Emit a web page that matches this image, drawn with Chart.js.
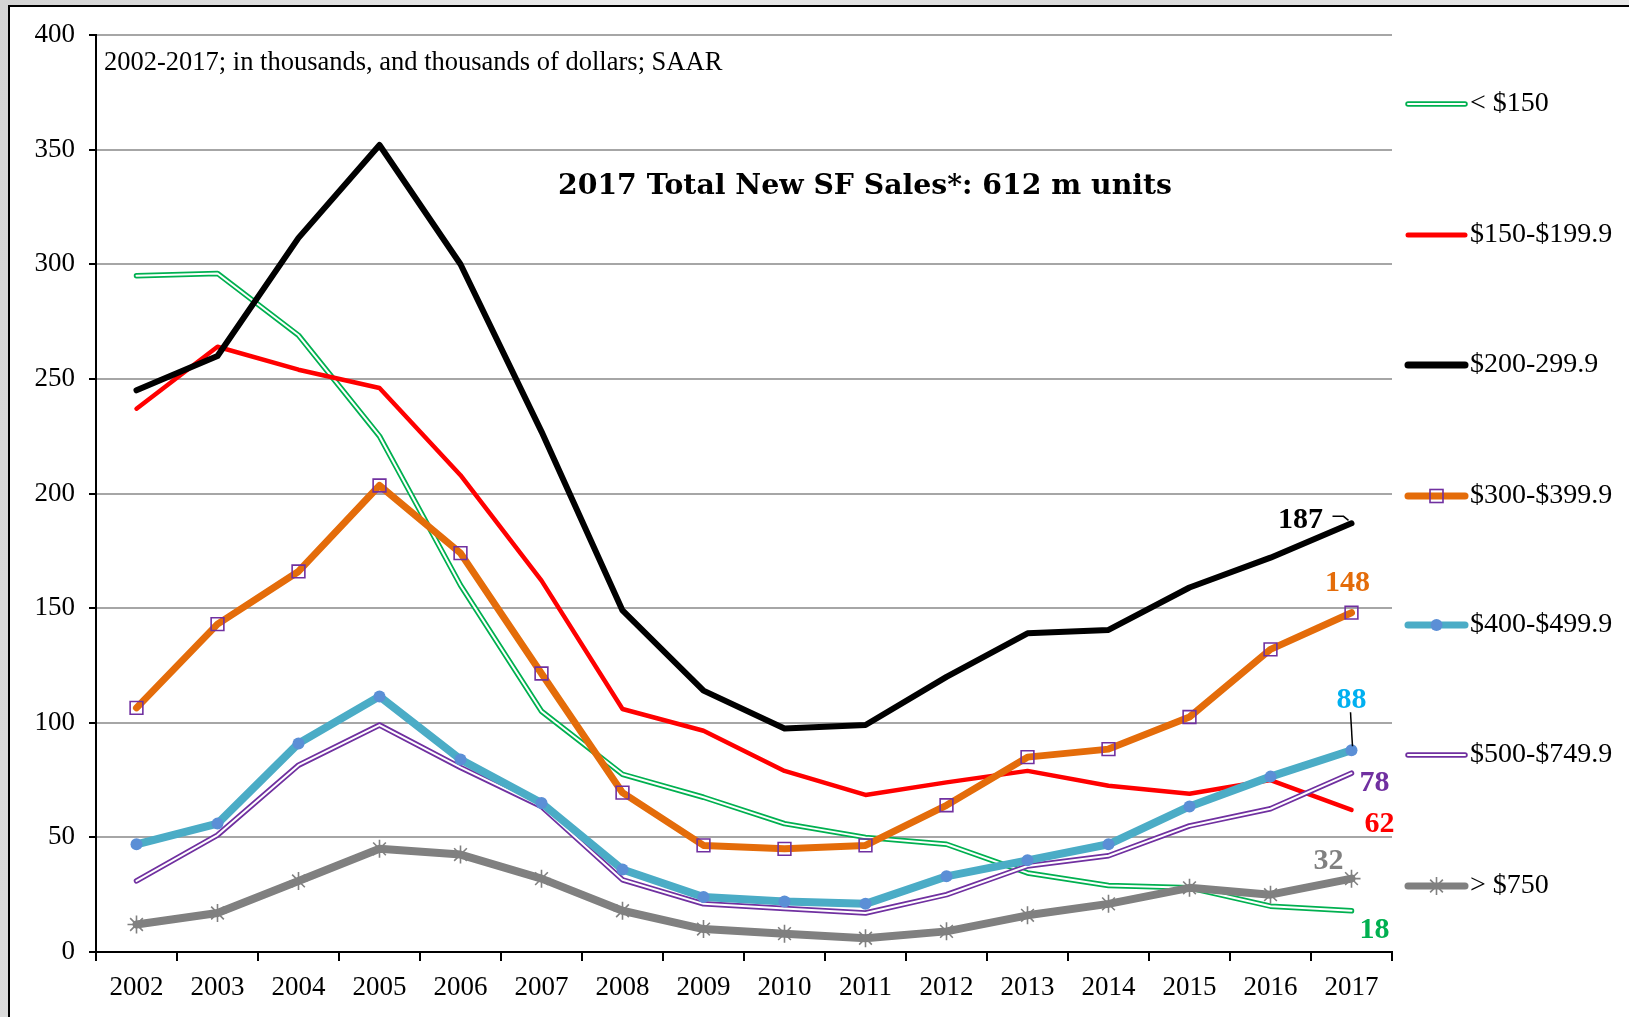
<!DOCTYPE html>
<html>
<head>
<meta charset="utf-8">
<title>New SF Sales by Price Range</title>
<script src="https://cdn.jsdelivr.net/npm/chart.js@4.4.1/dist/chart.umd.min.js"></script>
<style>
    html, body {
        margin: 0;
        padding: 0;
        width: 1629px;
        height: 1017px;
        overflow: hidden;
        background: linear-gradient(100deg, #d4d4d4 0%, #ebebeb 35%, #d9d9d9 60%, #eeeeee 100%);
    }
    #marco {
        position: absolute;
        left: 8px;
        top: 5px;
        width: 1640px;
        height: 1030px;
        background: #ffffff;
        border-top: 2px solid #000;
        border-left: 2px solid #000;
    }
    #grafica {
        position: absolute;
        left: 0;
        top: 0;
    }
</style>
</head>
<body>
<div id="marco"></div>
<canvas id="grafica" width="1629" height="1017"></canvas>

<script>
// años y ventas (miles de unidades, SAAR) por rango de precio
const anios = ["2002", "2003", "2004", "2005", "2006", "2007", "2008", "2009",
    "2010", "2011", "2012", "2013", "2014", "2015", "2016", "2017"];

const menos150 = [295, 296, 269, 225, 160, 105, 77.5, 67.5, 56, 50, 47, 34.5, 29, 28, 20, 18];
const r150_199 = [237, 264, 254, 246, 208, 162, 106, 96.5, 79, 68.5, 74, 79, 72.5, 69, 75, 62];
const r200_299 = [245, 260, 311.5, 352, 300, 227, 149, 114, 97.5, 99, 120, 139, 140.5, 159, 172, 187];
const r300_399 = [106.5, 143, 166, 203.5, 174, 121.5, 69.5, 46.5, 45, 46.5, 64, 85, 88.5, 102.5, 132, 148];
const r400_499 = [47, 56, 91, 111.5, 84, 65, 36, 24, 22, 21, 33, 40, 47, 63.5, 76.5, 88];
const r500_749 = [31, 51, 81.5, 99, 80.5, 63.5, 31.5, 21, 19, 17, 25, 37.5, 42, 55, 62.5, 78];
const mas750 = [12, 17, 31, 45, 42.5, 32, 18, 10, 8, 6, 9, 16, 21, 28, 25, 32];

const yTicks = [0, 50, 100, 150, 200, 250, 300, 350, 400];

const nombresSeries = ["< $150", "$150-$199.9", "$200-299.9", "$300-$399.9",
    "$400-$499.9", "$500-$749.9", "> $750"];

const fuente = "'Liberation Serif', 'Times New Roman', serif";

function serie(datos, color, ancho, orden, extra = {}) {
    return Object.assign({
        data: datos,
        borderColor: color,
        backgroundColor: color,
        borderWidth: ancho,
        borderCapStyle: "round",
        borderJoinStyle: "round",
        pointRadius: 0,
        pointHoverRadius: 0,
        tension: 0,
        fill: false,
        order: orden
    }, extra);
}

// lineas dobles: trazo de color con un hilo blanco encima
const datasets = [
    serie(menos150, "#00b050", 5.5, 9, { label: nombresSeries[0] }),
    serie(menos150, "#ffffff", 2, 8, { label: "_blanco1" }),
    serie(r150_199, "#ff0000", 4.5, 7, { label: nombresSeries[1] }),
    serie(r200_299, "#000000", 6, 6, { label: nombresSeries[2] }),
    serie(r500_749, "#7030a0", 5.5, 5, { label: nombresSeries[5] }),
    serie(r500_749, "#ffffff", 2, 4, { label: "_blanco2" }),
    serie(r300_399, "#e46c0a", 7, 3, {
        label: nombresSeries[3],
        pointStyle: "rect",
        pointRadius: 9,
        pointBorderColor: "#7030a0",
        pointBackgroundColor: "rgba(255,255,255,0)",
        pointBorderWidth: 1.6
    }),
    serie(r400_499, "#4bacc6", 8, 2, {
        label: nombresSeries[4],
        pointStyle: "circle",
        pointRadius: 6,
        pointBorderColor: "#5b8fd6",
        pointBackgroundColor: "#5b8fd6",
        pointBorderWidth: 0
    }),
    serie(mas750, "#808080", 8, 1, {
        label: nombresSeries[6],
        pointStyle: "star",
        pointRadius: 9,
        pointBorderColor: "#808080",
        pointBackgroundColor: "#808080",
        pointBorderWidth: 1.6
    })
];

// valores al final de cada serie
const etiquetasFinales = [
    { valor: r200_299[15], color: "#000000", dx: -51, dy: -3 },
    { valor: r300_399[15], color: "#e46c0a", dx: -4, dy: -29 },
    { valor: r400_499[15], color: "#00b0f0", dx: 0, dy: -50 },
    { valor: r500_749[15], color: "#7030a0", dx: 23, dy: 10 },
    { valor: r150_199[15], color: "#ff0000", dx: 28, dy: 14 },
    { valor: mas750[15], color: "#808080", dx: -23, dy: -17 },
    { valor: menos150[15], color: "#00b050", dx: 23, dy: 20 }
];

const pluginEtiquetas = {
    id: "etiquetasFinales",
    afterDatasetsDraw(chart) {
        const ctx = chart.ctx;
        const x = chart.scales.x.getPixelForValue(15);
        ctx.save();
        ctx.font = "bold 30px " + fuente;
        ctx.textAlign = "center";
        ctx.textBaseline = "middle";
        for (const et of etiquetasFinales) {
            const y = chart.scales.y.getPixelForValue(et.valor);
            ctx.fillStyle = et.color;
            ctx.fillText(String(Math.round(et.valor)), x + et.dx, y + et.dy);
        }

        // lineas guia de 187 y 88
        ctx.strokeStyle = "#000";
        ctx.lineWidth = 1.5;
        const y187 = chart.scales.y.getPixelForValue(r200_299[15]);
        ctx.beginPath();
        ctx.moveTo(x - 19, y187 - 7);
        ctx.lineTo(x - 8, y187 - 7);
        ctx.lineTo(x - 3, y187 - 3);
        ctx.stroke();
        const y88 = chart.scales.y.getPixelForValue(r400_499[15]);
        ctx.beginPath();
        ctx.moveTo(x - 1, y88 - 38);
        ctx.lineTo(x + 1, y88 - 4);
        ctx.stroke();

        // textos del grafico
        ctx.fillStyle = "#000";
        ctx.textAlign = "left";
        ctx.font = "26.5px " + fuente;
        ctx.fillText("2002-2017; in thousands, and thousands of dollars; SAAR", 104, 63);

        const titulo = "2017 Total New SF Sales*: 612 m units";
        ctx.font = "bold 30px 'DejaVu Serif', serif";
        const ancho = ctx.measureText(titulo).width;
        const tam = 30 * 614 / ancho;
        ctx.font = "bold " + tam.toFixed(1) + "px 'DejaVu Serif', serif";
        ctx.textAlign = "center";
        ctx.fillText(titulo, 865, 187);
        ctx.restore();
    }
};

// leyenda a la derecha, dibujada a mano
const legendaY = [104, 235, 365, 496, 625, 755, 886];

function simboloLeyenda(ctx, i, x1, x2, y) {
    ctx.lineCap = "round";
    const linea = (color, ancho) => {
        ctx.strokeStyle = color;
        ctx.lineWidth = ancho;
        ctx.beginPath();
        ctx.moveTo(x1, y);
        ctx.lineTo(x2, y);
        ctx.stroke();
    };
    const xm = (x1 + x2) / 2;
    if (i == 0) { linea("#00b050", 5.5); linea("#ffffff", 2); }
    if (i == 1) linea("#ff0000", 5);
    if (i == 2) linea("#000000", 7);
    if (i == 3) {
        linea("#e46c0a", 7);
        ctx.strokeStyle = "#7030a0";
        ctx.lineWidth = 1.6;
        ctx.strokeRect(xm - 6.5, y - 6.5, 13, 13);
    }
    if (i == 4) {
        linea("#4bacc6", 7);
        ctx.fillStyle = "#5b8fd6";
        ctx.beginPath();
        ctx.arc(xm, y, 6, 0, Math.PI * 2);
        ctx.fill();
    }
    if (i == 5) { linea("#7030a0", 5.5); linea("#ffffff", 2); }
    if (i == 6) {
        linea("#808080", 7);
        ctx.strokeStyle = "#808080";
        ctx.lineWidth = 1.6;
        ctx.lineCap = "butt";
        for (let k = 0; k < 4; k++) {
            const a = k * Math.PI / 4;
            ctx.beginPath();
            ctx.moveTo(xm - 9 * Math.cos(a), y - 9 * Math.sin(a));
            ctx.lineTo(xm + 9 * Math.cos(a), y + 9 * Math.sin(a));
            ctx.stroke();
        }
    }
}

const pluginLeyenda = {
    id: "leyendaDerecha",
    afterDraw(chart) {
        const ctx = chart.ctx;
        ctx.save();
        ctx.font = "28px " + fuente;
        ctx.textBaseline = "middle";
        ctx.textAlign = "left";
        for (let i = 0; i < nombresSeries.length; i++) {
            simboloLeyenda(ctx, i, 1408, 1465, legendaY[i]);
            ctx.fillStyle = "#000";
            ctx.fillText(nombresSeries[i], 1470, legendaY[i]);
        }
        ctx.restore();
    }
};

function CreaGrafica() {
    const config = {
        type: "line",
        data: {
            labels: anios,
            datasets: datasets
        },
        options: {
            responsive: false,
            animation: false,
            devicePixelRatio: 1,
            layout: {
                padding: { left: 0, right: 237, top: 35, bottom: 0 }
            },
            plugins: {
                legend: { display: false },
                tooltip: { enabled: false }
            },
            scales: {
                x: {
                    offset: true,
                    grid: {
                        offset: true,
                        drawOnChartArea: false,
                        color: "#000",
                        lineWidth: 2,
                        tickLength: 9
                    },
                    border: { color: "#000", width: 2 },
                    ticks: {
                        color: "#000",
                        font: { family: fuente, size: 27 },
                        maxRotation: 0,
                        padding: 11
                    },
                    afterFit(scale) { scale.height = 65; }
                },
                y: {
                    min: 0,
                    max: 400,
                    afterBuildTicks(scale) {
                        scale.ticks = yTicks.map(v => ({ value: v }));
                    },
                    grid: {
                        color: "#a6a6a6",
                        lineWidth: 2,
                        tickLength: 7,
                        tickColor: "#000"
                    },
                    border: { color: "#000", width: 2 },
                    ticks: {
                        color: "#000",
                        font: { family: fuente, size: 27 },
                        padding: 14
                    },
                    afterFit(scale) { scale.width = 96; }
                }
            }
        },
        plugins: [pluginEtiquetas, pluginLeyenda]
    };

    ChartPrincipal = new Chart(document.getElementById("grafica"), config);
}

CreaGrafica();
</script>
</body>
</html>
